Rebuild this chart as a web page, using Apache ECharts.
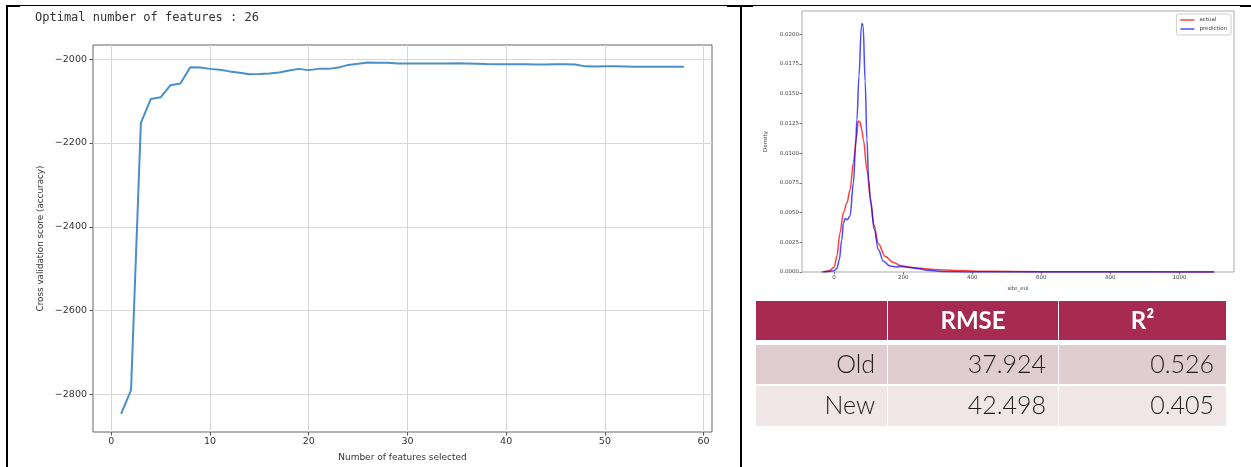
<!DOCTYPE html>
<html>
<head>
<meta charset="utf-8">
<script src="https://cdn.jsdelivr.net/npm/echarts@6/dist/echarts.min.js"></script>
<style>
  html, body { margin: 0; padding: 0; background: #fff; }
  #chart { width: 1251px; height: 467px; }
</style>
</head>
<body>
<div id="chart"></div>
<script>
// Recursive feature elimination: cross-validation score per number of features
const featureCounts = [
  1, 2, 3, 4, 5, 6, 7, 8, 9, 10, 11, 12, 13, 14, 15, 16, 17, 18, 19, 20,
  21, 22, 23, 24, 25, 26, 27, 28, 29, 30, 31, 32, 33, 34, 35, 36, 37, 38, 39, 40,
  41, 42, 43, 44, 45, 46, 47, 48, 49, 50, 51, 52, 53, 54, 55, 56, 57, 58
];
const cvScores = [
  -2847, -2790, -2152, -2095, -2091, -2062, -2058, -2019, -2020, -2023,
  -2025, -2029, -2032, -2036, -2035.5, -2034, -2031.5, -2027, -2023, -2026,
  -2023, -2023, -2020, -2013.5, -2011, -2008, -2008.5, -2008.5, -2010, -2010,
  -2010, -2010, -2010, -2010, -2009.5, -2010, -2010.5, -2011.5, -2012, -2012,
  -2012, -2012, -2012.5, -2012.5, -2012, -2012, -2012.5, -2017, -2017.5, -2017,
  -2017, -2017.5, -2018, -2018, -2018, -2018, -2018, -2018
];
const cvXTicks = [0, 10, 20, 30, 40, 50, 60];
const cvYTicks = [-2800, -2600, -2400, -2200, -2000];

// Kernel density of site_eui: actual values vs. model predictions
const actualEui = [
  -30, -15, 0, 8, 17, 27, 37, 46, 56, 64, 70, 75, 80, 85, 95, 105, 115, 128,
  148, 172, 191, 215, 240, 290, 350, 450, 600, 800, 1000, 1100
];
const actualDensity = [
  0, 0.0001, 0.0004, 0.0013, 0.0033, 0.005, 0.0058, 0.0069, 0.0092, 0.0112,
  0.0127, 0.0126, 0.012, 0.0111, 0.0086, 0.0062, 0.004, 0.0024,
  0.0013, 0.0008, 0.00055, 0.00042, 0.00034, 0.0002, 0.00012, 0.00006, 0.00003, 0.00002, 0.00001, 0
];
const predictedEui = [
  -36, -15, 0, 8, 15, 22, 27, 32, 38, 46, 56, 62, 66, 72, 79, 81, 84, 90, 95,
  100, 106, 116, 128, 143, 162, 180, 191, 211, 240, 270, 310, 400, 600, 800, 1000, 1101
];
const predictedDensity = [
  0, 0.00005, 0.0001, 0.0003, 0.001, 0.0027, 0.0041, 0.0045, 0.0044, 0.0047, 0.0075, 0.0105, 0.0128, 0.0165, 0.0207, 0.0209, 0.0207, 0.016, 0.0111,
  0.0078, 0.0058, 0.0036, 0.0019, 0.0009, 0.0005, 0.00042, 0.00047, 0.0004, 0.0003, 0.00015, 0.00005, 0.00001, 0, 0, 0, 0
];
const kdeXTicks = [0, 200, 400, 600, 800, 1000];
const kdeYTicks = [0, 0.0025, 0.005, 0.0075, 0.01, 0.0125, 0.015, 0.0175, 0.02];

// Model comparison metrics
const metricHeaders = ['', 'RMSE', 'R²'];
const modelNames = ['Old', 'New'];
const rmseValues = [37.924, 42.498];
const r2Values = [0.526, 0.405];

// Best feature count = position of the highest score
let bestIdx = 0;
cvScores.forEach((v, i) => { if (v > cvScores[bestIdx]) bestIdx = i; });
const optimalFeatures = featureCounts[bestIdx];

const cvData = featureCounts.map((n, i) => [n, cvScores[i]]);
const actualData = actualEui.map((x, i) => [x, actualDensity[i]]);
const predictedData = predictedEui.map((x, i) => [x, predictedDensity[i]]);

const mplFont = 'DejaVu Sans';
const minus = v => String(v).replace('-', '\u2212');

// ---- metrics table drawn with graphic elements ----
const tableFont = 'Lato';
const colLeft = [756, 888, 1059];
const colWidth = [131, 170, 167];
const rowTop = [301, 345, 386];
const rowHeight = [39, 39, 40];
const headerColor = '#A62A51';
const bodyColors = ['#E0CDD1', '#F0E6E8'];

const tableGraphics = [];
metricHeaders.forEach((h, c) => {
  tableGraphics.push({
    type: 'rect', silent: true,
    shape: { x: colLeft[c], y: rowTop[0], width: colWidth[c], height: rowHeight[0] },
    style: { fill: headerColor }
  });
  if (h) {
    tableGraphics.push({
      type: 'text', silent: true,
      x: colLeft[c] + colWidth[c] / 2, y: rowTop[0] + rowHeight[0] / 2 + 1,
      style: {
        text: h, fill: '#ffffff', font: 'bold 24px ' + tableFont,
        align: 'center', verticalAlign: 'middle'
      }
    });
  }
});
modelNames.forEach((name, r) => {
  const cells = [name, rmseValues[r].toFixed(3), r2Values[r].toFixed(3)];
  cells.forEach((txt, c) => {
    tableGraphics.push({
      type: 'rect', silent: true,
      shape: { x: colLeft[c], y: rowTop[r + 1], width: colWidth[c], height: rowHeight[r + 1] },
      style: { fill: bodyColors[r] }
    });
    tableGraphics.push({
      type: 'text', silent: true,
      x: colLeft[c] + colWidth[c] - 12, y: rowTop[r + 1] + rowHeight[r + 1] / 2,
      style: {
        text: txt, fill: '#1c1c1c', font: '300 25px ' + tableFont,
        align: 'right', verticalAlign: 'middle'
      }
    });
  });
});

// ---- page frame lines around the two panels ----
const frameGraphics = [
  { type: 'rect', shape: { x: 6, y: 5, width: 1245, height: 1 }, style: { fill: '#000' } },
  { type: 'rect', shape: { x: 6, y: 5, width: 14, height: 2 }, style: { fill: '#000' } },
  { type: 'rect', shape: { x: 727, y: 5, width: 26, height: 2 }, style: { fill: '#000' } },
  { type: 'rect', shape: { x: 1240, y: 5, width: 11, height: 2 }, style: { fill: '#000' } },
  { type: 'rect', shape: { x: 6, y: 5, width: 2, height: 462 }, style: { fill: '#000' } },
  { type: 'rect', shape: { x: 740, y: 5, width: 2, height: 462 }, style: { fill: '#000' } }
].map(g => Object.assign({ silent: true }, g));

const chart = echarts.init(document.getElementById('chart'), null, { renderer: 'canvas' });

chart.setOption({
  animation: false,
  backgroundColor: '#ffffff',
  title: {
    text: 'Optimal number of features : ' + optimalFeatures,
    left: 35, top: 12, padding: 0,
    textStyle: { fontFamily: 'DejaVu Sans Mono', fontSize: 12, fontWeight: 'normal', color: '#333' }
  },
  legend: {
    data: [
      { name: 'actual', icon: 'rect', itemStyle: { color: 'rgba(255,0,0,0.75)' } },
      { name: 'prediction', icon: 'rect', itemStyle: { color: 'rgba(0,0,255,0.7)' } }
    ],
    orient: 'vertical',
    right: 20, top: 14,
    padding: [3, 4],
    itemGap: 3,
    itemWidth: 14, itemHeight: 1.5,
    backgroundColor: '#fff',
    borderColor: '#cccccc', borderWidth: 1, borderRadius: 2,
    textStyle: { fontFamily: mplFont, fontSize: 5.5, color: '#444' }
  },
  grid: [
    { left: 93, top: 45, width: 619, height: 390, show: true, borderColor: '#666', borderWidth: 1 },
    { left: 802, top: 11, width: 432, height: 261, show: true, borderColor: '#aaa', borderWidth: 1 }
  ],
  xAxis: [
    {
      type: 'value', gridIndex: 0, min: -1.85, max: 60.85,
      name: 'Number of features selected', nameLocation: 'middle', nameGap: 21,
      nameTextStyle: { fontFamily: mplFont, fontSize: 9, color: '#333' },
      axisLine: { show: false, onZero: false },
      axisTick: { show: true, length: 3.5, lineStyle: { color: '#555' }, customValues: cvXTicks },
      axisLabel: { customValues: cvXTicks, formatter: v => String(v), fontFamily: mplFont, fontSize: 9.5, color: '#333', margin: 5 },
      splitLine: { show: true, lineStyle: { color: '#d6d6d6', width: 1 } }
    },
    {
      type: 'value', gridIndex: 1, min: -93, max: 1158,
      name: 'site_eui', nameLocation: 'middle', nameGap: 13,
      nameTextStyle: { fontFamily: mplFont, fontSize: 5.5, color: '#444' },
      axisLine: { show: false, onZero: false },
      axisTick: { show: true, length: 2.5, lineStyle: { color: '#777' }, customValues: kdeXTicks },
      axisLabel: { customValues: kdeXTicks, formatter: v => String(v), fontFamily: mplFont, fontSize: 5.5, color: '#444', margin: 3 },
      splitLine: { show: false }
    }
  ],
  yAxis: [
    {
      type: 'value', gridIndex: 0, min: -2890, max: -1966,
      name: 'Cross validation score (accuracy)', nameLocation: 'middle', nameGap: 48, nameRotate: 90,
      nameTextStyle: { fontFamily: mplFont, fontSize: 8.8, color: '#333' },
      axisLine: { show: false, onZero: false },
      axisTick: { show: true, length: 3.5, lineStyle: { color: '#555' }, customValues: cvYTicks },
      axisLabel: { customValues: cvYTicks, formatter: minus, fontFamily: mplFont, fontSize: 9.5, color: '#333', margin: 6 },
      splitLine: { show: true, lineStyle: { color: '#d6d6d6', width: 1 } }
    },
    {
      type: 'value', gridIndex: 1, min: 0, max: 0.02196,
      name: 'Density', nameLocation: 'middle', nameGap: 33, nameRotate: 90,
      nameTextStyle: { fontFamily: mplFont, fontSize: 5.5, color: '#444' },
      axisLine: { show: false, onZero: false },
      axisTick: { show: true, length: 2.5, lineStyle: { color: '#777' }, customValues: kdeYTicks },
      axisLabel: { customValues: kdeYTicks, formatter: v => v.toFixed(4), fontFamily: mplFont, fontSize: 5.5, color: '#444', margin: 3 },
      splitLine: { show: false }
    }
  ],
  series: [
    {
      name: 'cv', type: 'line', xAxisIndex: 0, yAxisIndex: 0,
      data: cvData, symbol: 'none', silent: true,
      lineStyle: { color: '#4a8fcc', width: 2 }
    },
    {
      name: 'actual', type: 'line', xAxisIndex: 1, yAxisIndex: 1,
      data: actualData, symbol: 'none', smooth: 0.35, smoothMonotone: 'x',
      itemStyle: { color: 'rgba(255,0,0,0.75)' },
      lineStyle: { color: 'rgba(255,0,0,0.75)', width: 1.5 }
    },
    {
      name: 'prediction', type: 'line', xAxisIndex: 1, yAxisIndex: 1,
      data: predictedData, symbol: 'none', smooth: 0.35, smoothMonotone: 'x',
      itemStyle: { color: 'rgba(0,0,255,0.7)' },
      lineStyle: { color: 'rgba(0,0,255,0.7)', width: 1.5 }
    }
  ],
  graphic: tableGraphics.concat(frameGraphics)
});
</script>
</body>
</html>
